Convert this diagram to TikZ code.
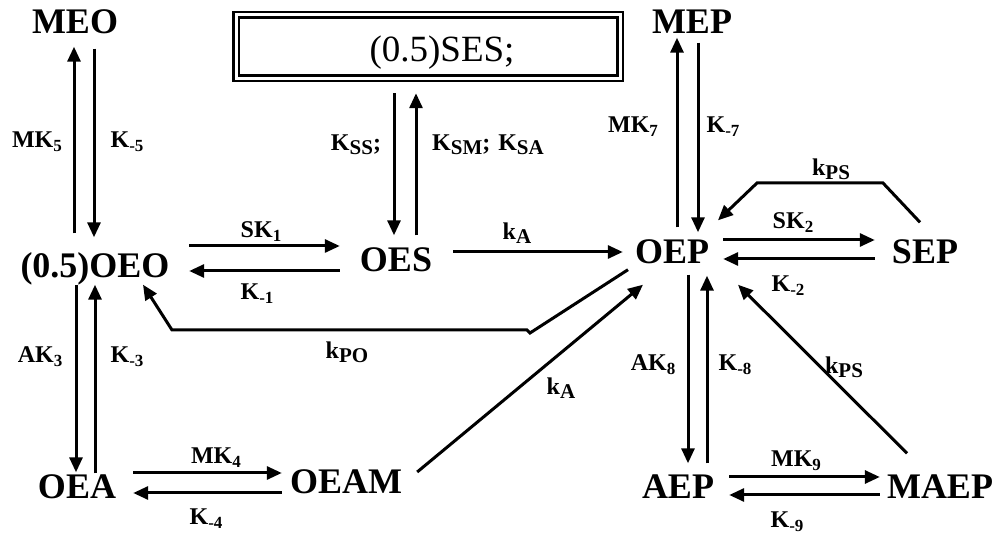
\documentclass[tikz,border=0pt]{standalone}
\usepackage{fontspec}
\setmainfont{Liberation Serif}
\usetikzlibrary{arrows.meta,calc}
\newcommand{\rk}[2]{#1\raisebox{-4pt}{\fontsize{17}{17}\selectfont #2}}
\newcommand{\rs}[2]{#1\raisebox{-3.5pt}{\fontsize{21}{21}\selectfont #2}}
\tikzset{
  big/.style={font=\fontsize{36}{36}\selectfont\bfseries, inner sep=0pt, text height=24pt, text depth=0pt, anchor=center},
  lab/.style={font=\fontsize{24}{24}\selectfont\bfseries, inner sep=0pt, text height=16pt, text depth=0pt, anchor=center},
  arr/.style={line width=3pt, -{Triangle[length=15pt,width=13pt]}},
}
\begin{document}
\begin{tikzpicture}[x=1pt,y=-1pt]
\useasboundingbox (0,0) rectangle (997,534);
% box
\node[draw, double, line width=2.5pt, double distance=3pt, minimum width=384pt, minimum height=63.5pt, inner sep=0pt] (box) at (428,46.75) {};
\node[font=\fontsize{37}{37}\selectfont, inner sep=0pt, text height=24pt, text depth=0pt] (SES) at (442,50) {(0.5)SES;};
% species
\node[big] (MEO) at (75,22) {MEO};
\node[big] (OEO) at (95,266) {(0.5)OEO};
\node[big] (OES) at (396,260) {OES};
\node[big] (OEP) at (672,252) {OEP};
\node[big] (SEP) at (925,252) {SEP};
\node[big] (MEP) at (692,22) {MEP};
\node[big] (OEA) at (77,487) {OEA};
\node[big] (OEAM) at (346,482) {OEAM};
\node[big] (AEP) at (678,487) {AEP};
\node[big] (MAEP) at (940,487) {MAEP};
% labels
\node[lab] (l1) at (37,140) {\rk{MK}{5}};
\node[lab] (l2) at (127,140) {\rk{K}{-5}};
\node[lab] (l3) at (356,143) {\rs{K}{SS};};
\node[lab] (l4) at (488,143) {\rs{K}{SM};\hspace{8pt}\rs{K}{SA}};
\node[lab] (l5) at (633,125) {\rk{MK}{7}};
\node[lab] (l6) at (723,125) {\rk{K}{-7}};
\node[lab] (l7) at (831,168) {\rs{k}{PS}};
\node[lab] (l8) at (261,230) {\rk{SK}{1}};
\node[lab] (l9) at (257,292) {\rk{K}{-1}};
\node[lab] (l10) at (517,232) {\rs{k}{A}};
\node[lab] (l11) at (347,351) {\rs{k}{PO}};
\node[lab] (l12) at (793,221) {\rk{SK}{2}};
\node[lab] (l13) at (788,284) {\rk{K}{-2}};
\node[lab] (l14) at (40,355) {\rk{AK}{3}};
\node[lab] (l15) at (127,355) {\rk{K}{-3}};
\node[lab] (l16) at (653,363) {\rk{AK}{8}};
\node[lab] (l17) at (735,363) {\rk{K}{-8}};
\node[lab] (l18) at (844,366) {\rs{k}{PS}};
\node[lab] (l19) at (561,387) {\rs{k}{A}};
\node[lab] (l20) at (216,456) {\rk{MK}{4}};
\node[lab] (l21) at (206,517) {\rk{K}{-4}};
\node[lab] (l22) at (796,459) {\rk{MK}{9}};
\node[lab] (l23) at (787,520) {\rk{K}{-9}};
% connectors
\draw[arr] ($(OEO.north)+(-21,-20.5)$) -- ($(MEO.south)+(-1,12.5)$);
\draw[arr] ($(MEO.south)+(19,14.5)$) -- ($(OEO.north)+(-1,-16.5)$);
\draw[arr] ($(OEO.south)+(-19,6.5)$) -- ($(OEA.north)+(-1,-2.5)$);
\draw[arr] ($(OEA.north)+(18,-1.5)$) -- ($(OEO.south)+(0,6.5)$);
\draw[arr] ($(OEO.east)+(19.5,-20)$) -- ($(OES.west)+(-20,-14)$);
\draw[arr] ($(OES.west)+(-20,11)$) -- ($(OEO.east)+(19.5,5)$);
\draw[arr] ($(box.south)+(-34,13.5)$) -- ($(OES.north)+(-2,-12.5)$);
\draw[arr] ($(OES.north)+(20,-12.5)$) -- ($(box.south)+(-12,13.5)$);
\draw[arr] ($(OES.east)+(21,-8)$) -- ($(OEP.west)+(-12,0)$);
\draw[arr] ($(OEP.north)+(5,-12.5)$) -- ($(MEP.south)+(-15,3.5)$);
\draw[arr] ($(MEP.south)+(6,8.5)$) -- ($(OEP.north)+(26,-7.5)$);
\draw[arr] ($(OEP.east)+(14,-12)$) -- ($(SEP.west)+(-17,-12)$);
\draw[arr] ($(SEP.west)+(-17,7)$) -- ($(OEP.east)+(14,7)$);
\draw[arr] ($(SEP.north)+(-5,-17.5)$) -- (883,183) -- (757,183) -- ($(OEP.north)+(46,-19.5)$);
\draw[arr] ($(OEP.south)+(16,10.5)$) -- ($(AEP.north)+(10,-11.5)$);
\draw[arr] ($(AEP.north)+(29,-11.5)$) -- ($(OEP.south)+(35,11.5)$);
\draw[arr] ($(AEP.east)+(15,-10)$) -- ($(MAEP.west)+(-7,-10)$);
\draw[arr] ($(MAEP.west)+(-7,8)$) -- ($(AEP.east)+(15,8)$);
\draw[arr] ($(MAEP.north)+(-33,-21.5)$) -- ($(OEP.south)+(66,20.5)$);
\draw[arr] ($(OEAM.east)+(15,-10)$) -- ($(OEP.south)+(-29,20.5)$);
\draw[arr] ($(OEA.east)+(17,-14)$) -- ($(OEAM.west)+(-8,-9)$);
\draw[arr] ($(OEAM.west)+(-8,11)$) -- ($(OEA.east)+(17,6)$);
\draw[arr] ($(OEP.south)+(-44,5.5)$) -- (530,333) -- (527,330) -- (172,330) -- ($(OEO.south)+(48,6.5)$);
\end{tikzpicture}
\end{document}
